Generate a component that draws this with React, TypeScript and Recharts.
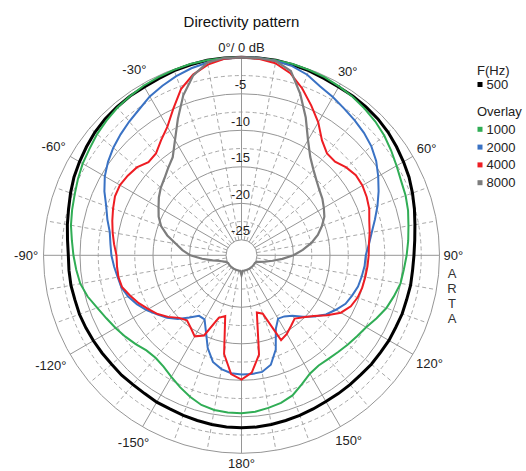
import React from "react"
import { RadarChart, Radar, PolarGrid, PolarAngleAxis, PolarRadiusAxis } from "recharts"

const W = 526
const H = 471
const CX = 241.5
const CY = 255.3
const OUTER = 198
const INNER = 15.5
const DB_MIN = -25
const DB_MAX = 0
const FONT = "Arial, 'Liberation Sans', sans-serif"

// angle in degrees, clockwise from the front (0°)
const angles = [
  0, 5, 10, 15, 20, 25, 30, 35, 40, 45, 50, 55, 60, 65, 70, 75, 80, 85,
  90, 95, 100, 105, 110, 115, 120, 125, 130, 135, 140, 145, 150, 155, 160, 165, 170, 175,
  180, 185, 190, 195, 200, 205, 210, 215, 220, 225, 230, 235, 240, 245, 250, 255, 260, 265,
  270, 275, 280, 285, 290, 295, 300, 305, 310, 315, 320, 325, 330, 335, 340, 345, 350, 355,
]

// normalized level in dB
const f500 = [
  0, 0, 0, -0.1, -0.2, -0.4, -0.5, -0.5, -0.6, -0.7, -0.9, -1.2, -1.5, -1.8, -2.2, -2.6, -3.0, -3.3,
  -3.5, -3.6, -3.6, -3.7, -3.7, -3.8, -3.8, -3.9, -3.9, -4.0, -4.0, -4.0, -4.0, -3.9, -3.8, -3.7, -3.6, -3.5,
  -3.5, -3.5, -3.6, -3.7, -3.8, -3.9, -3.9, -4.0, -4.0, -3.9, -3.9, -3.8, -3.7, -3.6, -3.5, -3.5, -3.4, -3.4,
  -3.4, -3.2, -2.9, -2.6, -2.2, -1.8, -1.5, -1.2, -0.9, -0.7, -0.6, -0.5, -0.5, -0.4, -0.2, -0.1, 0, 0,
]
const f1000 = [
  0, 0, 0, 0, -0.1, -0.2, -0.4, -0.6, -0.9, -1.2, -1.6, -2.1, -2.6, -3.0, -3.2, -3.5, -3.9, -4.2,
  -4.5, -4.8, -5.0, -5.5, -6.0, -6.7, -7.4, -7.8, -8.1, -8.4, -8.6, -8.7, -8.4, -7.6, -6.7, -6.2, -5.9, -5.6,
  -5.5, -5.5, -5.6, -5.9, -6.5, -7.2, -7.9, -8.5, -8.8, -8.7, -8.2, -7.7, -7.2, -6.7, -6.1, -5.3, -4.7, -4.4,
  -4.1, -3.8, -3.4, -3.1, -2.8, -2.4, -2.0, -1.7, -1.3, -1.0, -0.7, -0.5, -0.3, -0.2, -0.1, 0, 0, 0,
]
const f2000 = [
  0, 0, -0.1, -0.3, -0.8, -1.6, -2.1, -2.6, -3.0, -3.4, -3.9, -4.6, -5.5, -6.4, -7.3, -8.2, -9.0, -9.6,
  -10.1, -10.2, -10.4, -10.6, -11.0, -11.4, -12.2, -13.0, -14.1, -15.2, -16.3, -16.9, -17.1, -16.0, -13.4, -11.6, -10.9, -10.8,
  -10.8, -10.9, -11.3, -12.0, -13.6, -15.6, -17.0, -17.0, -16.0, -14.8, -13.8, -13.0, -12.1, -11.3, -10.6, -10.1, -9.9, -9.6,
  -9.3, -9.1, -8.8, -8.1, -7.4, -6.4, -5.5, -4.8, -4.2, -3.7, -3.2, -2.7, -2.0, -1.5, -1.0, -0.6, -0.3, -0.1,
]
const f4000 = [
  0, -0.1, -0.4, -1.3, -2.8, -4.5, -6.1, -7.9, -8.9, -9.0, -8.4, -8.0, -8.0, -8.2, -8.5, -9.0, -9.3, -9.6,
  -9.7, -9.8, -9.9, -10.0, -10.2, -10.6, -11.4, -12.8, -14.2, -15.1, -15.8, -15.3, -14.7, -14.3, -18.6, -19.0, -13.3, -11.0,
  -10.1, -10.8, -13.4, -18.5, -18.0, -15.0, -14.3, -15.0, -15.5, -15.0, -14.0, -13.1, -12.4, -11.6, -10.9, -10.2, -10.0, -10.0,
  -10.0, -9.6, -9.2, -8.8, -8.4, -8.0, -7.9, -8.1, -8.4, -9.1, -8.9, -7.9, -6.8, -5.0, -2.9, -1.5, -0.6, -0.1,
]
const f8000 = [
  0, 0, -0.1, -1.0, -3.6, -6.3, -8.9, -10.7, -11.8, -12.6, -13.2, -13.6, -14.1, -14.6, -15.4, -16.3, -17.4, -18.7,
  -20.0, -21.5, -22.8, -23.8, -24.5, -24.9, -25, -25, -25, -25, -25, -25, -25, -25, -25, -25, -25, -25,
  -24.4, -25, -25, -25, -25, -25, -25, -25, -25, -25, -25, -25, -25, -24.9, -24.6, -24.1, -23.1, -21.7,
  -20.1, -19.0, -18.0, -16.6, -15.4, -14.6, -14.0, -13.3, -12.7, -12.2, -11.5, -10.7, -8.9, -6.5, -3.8, -1.6, -0.3, 0,
]

const radiusTicks = [-25, -20, -15, -10, -5]

const series = [
  { key: "f500", label: "500", color: "#000000", width: 3, values: f500 },
  { key: "f1000", label: "1000", color: "#30ad55", width: 2, values: f1000 },
  { key: "f2000", label: "2000", color: "#3a72c4", width: 2, values: f2000 },
  { key: "f4000", label: "4000", color: "#ee1d23", width: 2, values: f4000 },
  { key: "f8000", label: "8000", color: "#7d7d7d", width: 2.2, values: f8000 },
]

const data = angles.map((deg, i) => {
  const row: Record<string, number> = { deg }
  series.forEach((s) => (row[s.key] = s.values[i]))
  return row
})

const radiusOf = (db: number) => INNER + ((db - DB_MIN) / (DB_MAX - DB_MIN)) * (OUTER - INNER)

const solidRings = [-25, -20, -15, -10, -5, 0].map(radiusOf)
const dashedRings = [-22.5, -17.5, -12.5, -7.5, -2.5].map(radiusOf)
const solidSpokes = angles.filter((a) => a % 30 === 0).map((a) => 90 - a)
const dashedSpokes = angles.filter((a) => a % 10 === 0 && a % 30 !== 0).map((a) => 90 - a)

function AngleTick(props: any) {
  const deg = props.payload.value
  if (deg % 30 !== 0) return <g />
  const label = deg === 0 ? "0°/ 0 dB" : `${deg > 180 ? deg - 360 : deg}°`
  const rad = (deg * Math.PI) / 180
  const halfW = deg === 0 ? 0 : label.length * 3.6
  const r = OUTER + 3 + Math.abs(Math.sin(rad)) * halfW + Math.abs(Math.cos(rad)) * 7
  return (
    <text
      x={CX + r * Math.sin(rad)}
      y={CY - r * Math.cos(rad)}
      textAnchor="middle"
      dominantBaseline="central"
      fontSize={13}
      fontFamily={FONT}
      fill="#222"
    >
      {label}
    </text>
  )
}

function RadiusTick(props: any) {
  const { x, y, payload } = props
  return (
    <text x={x - 1} y={y - 9} textAnchor="middle" dominantBaseline="central" fontSize={13} fontFamily={FONT} fill="#222">
      {payload.value}
    </text>
  )
}

function Overlay() {
  const rows = [
    { text: "F(Hz)", y: 70 },
    { text: "500", y: 84.5, color: series[0].color },
    { text: "Overlay", y: 111 },
    ...series.slice(1).map((s, i) => ({ text: s.label, y: 129.3 + i * 17.8, color: s.color })),
  ]
  return (
    <svg width={W} height={H} style={{ position: "absolute", left: 0, top: 0, pointerEvents: "none" }}>
      <text x={CX} y={21} textAnchor="middle" dominantBaseline="central" fontSize={15} fontFamily={FONT} fill="#111">
        Directivity pattern
      </text>
      {rows.map((r) =>
        r.color ? (
          <g key={r.text}>
            <rect x={477.5} y={r.y - 2.5} width={5} height={5} fill={r.color} />
            <text x={486.5} y={r.y} dominantBaseline="central" fontSize={13} fontFamily={FONT} fill="#222">
              {r.text}
            </text>
          </g>
        ) : (
          <text key={r.text} x={477} y={r.y} dominantBaseline="central" fontSize={13} fontFamily={FONT} fill="#222">
            {r.text}
          </text>
        )
      )}
      {["A", "R", "T", "A"].map((ch, i) => (
        <text key={i} x={452} y={273 + i * 15.2} textAnchor="middle" dominantBaseline="central" fontSize={13} fontFamily={FONT} fill="#333">
          {ch}
        </text>
      ))}
    </svg>
  )
}

export default function App() {
  // pinned to the window corner so the page never grows a scrollbar
  return (
    <div style={{ position: "fixed", left: 0, top: 0, width: W, height: H, background: "#fff" }}>
      <RadarChart
        width={W}
        height={H}
        data={data}
        cx={CX}
        cy={CY}
        innerRadius={INNER}
        outerRadius={OUTER}
        startAngle={90}
        endAngle={-270}
        margin={{ top: 0, right: 0, bottom: 0, left: 0 }}
      >
        <PolarGrid gridType="circle" polarRadius={dashedRings} polarAngles={dashedSpokes} stroke="#a8a8a8" strokeDasharray="4 3" />
        <PolarGrid gridType="circle" polarRadius={solidRings} polarAngles={solidSpokes} stroke="#969696" />
        <PolarAngleAxis dataKey="deg" type="category" axisLine={false} tickLine={false} tick={AngleTick} />
        <PolarRadiusAxis
          type="number"
          angle={90}
          domain={[DB_MIN, DB_MAX]}
          ticks={radiusTicks}
          allowDataOverflow
          axisLine={false}
          tickLine={false}
          tick={RadiusTick}
        />
        {series.map((s) => (
          <Radar
            key={s.key}
            dataKey={s.key}
            stroke={s.color}
            strokeWidth={s.width}
            fill="none"
            fillOpacity={0}
            dot={false}
            isAnimationActive={false}
          />
        ))}
      </RadarChart>
      <Overlay />
    </div>
  )
}
